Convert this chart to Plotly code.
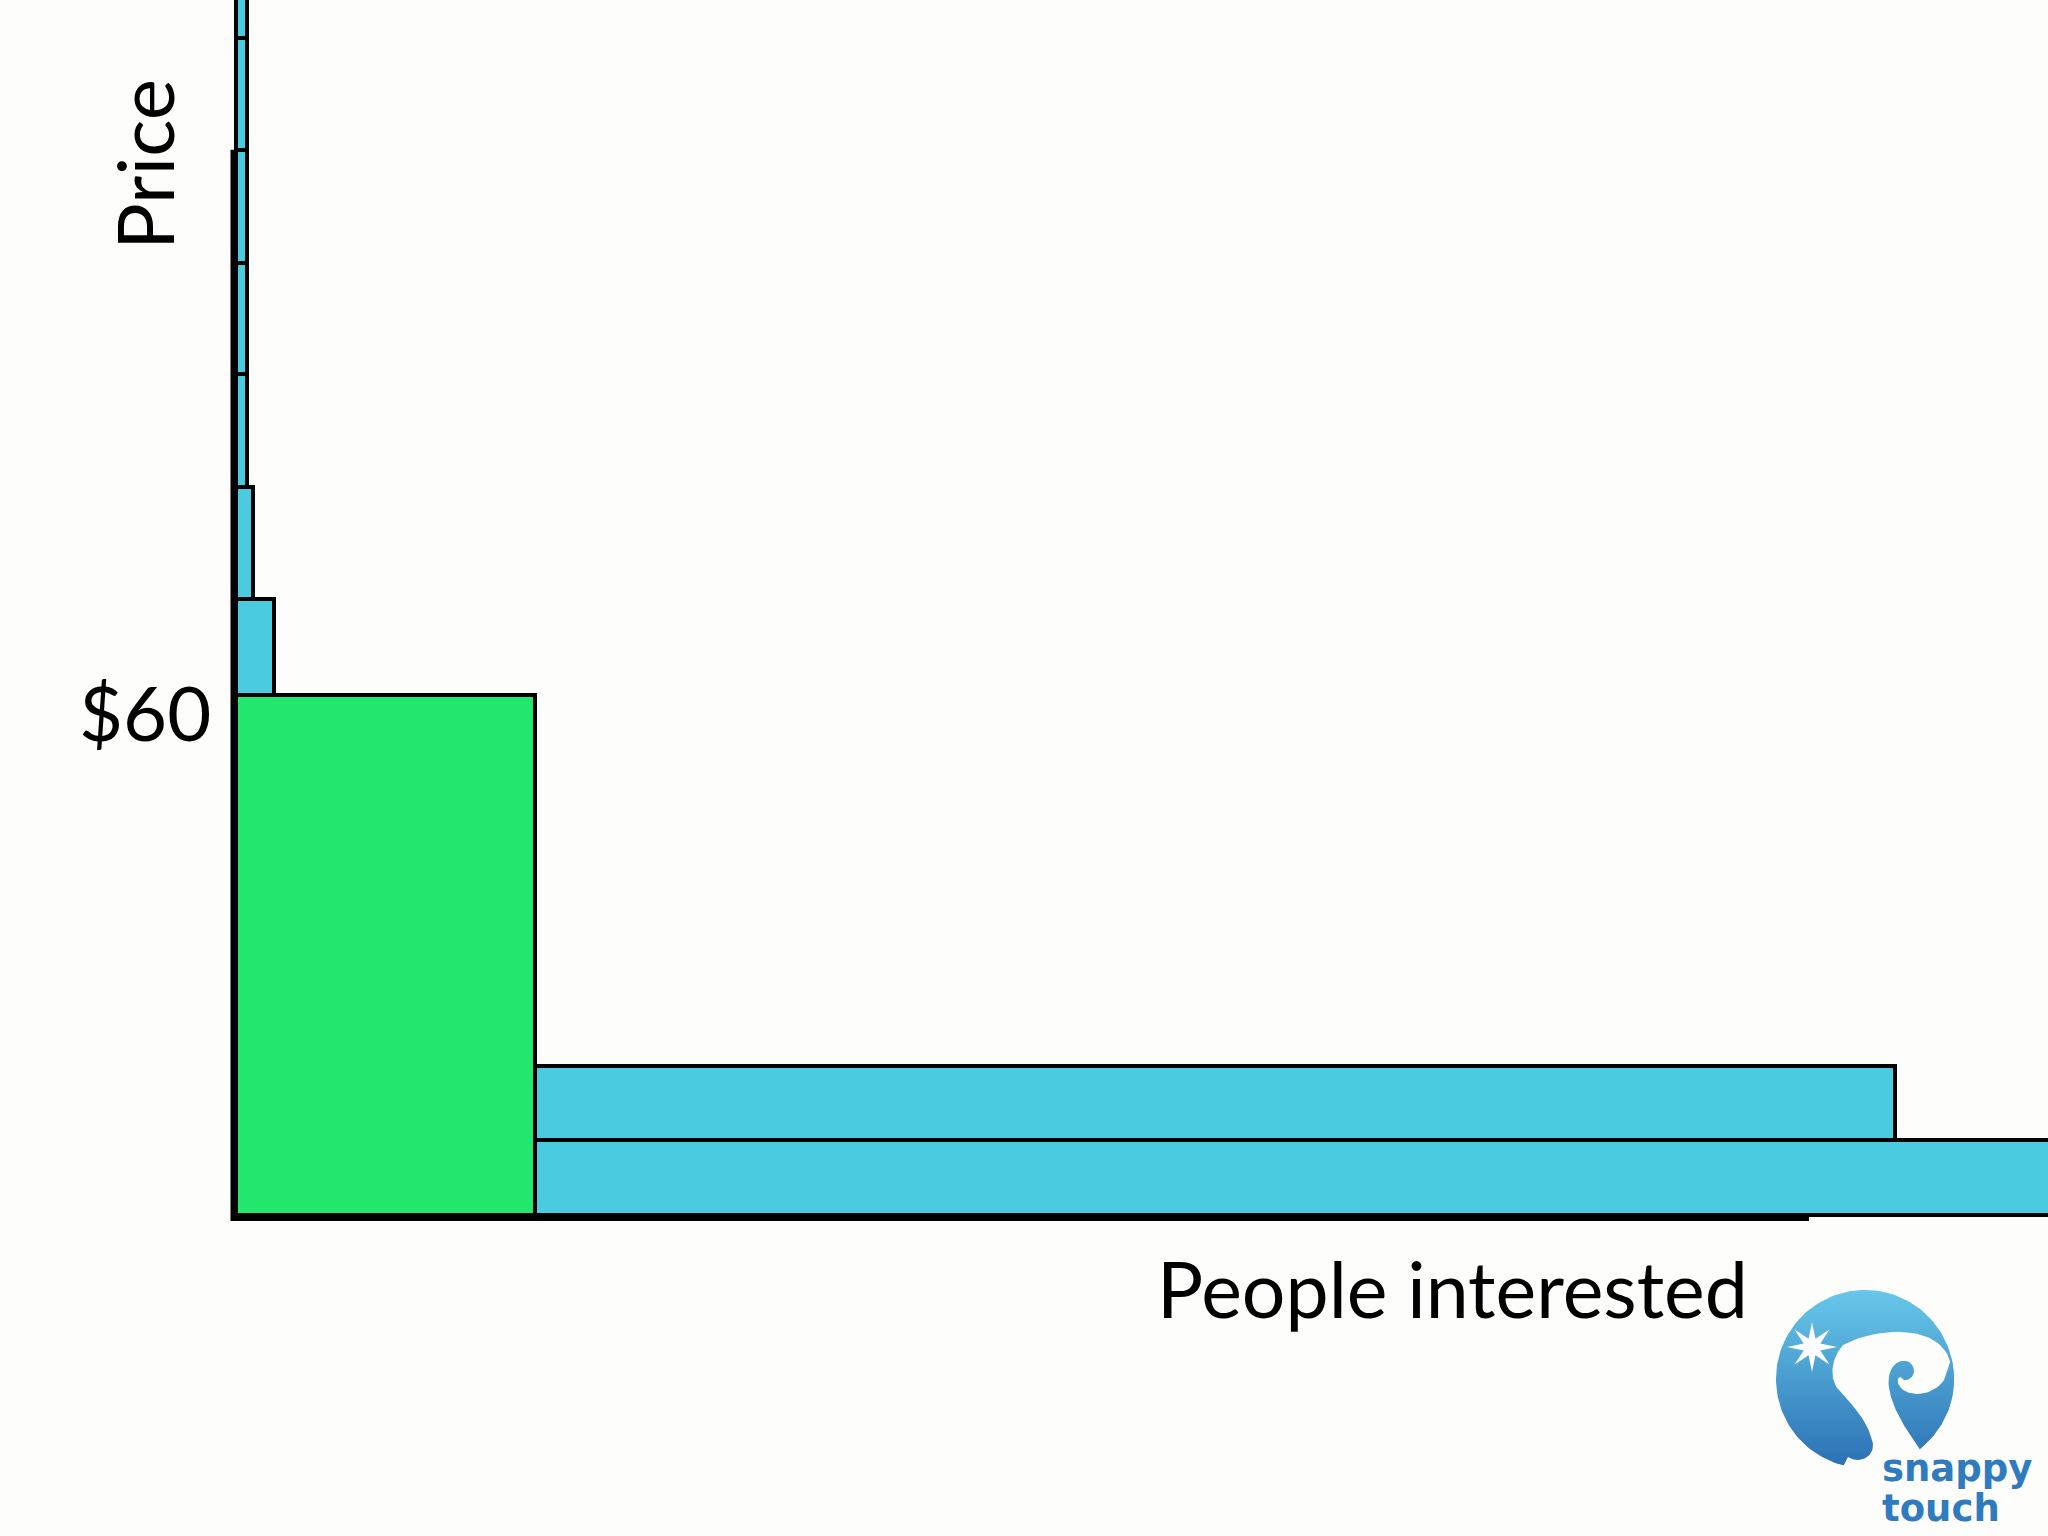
import numpy as np
import plotly.graph_objects as go

W, H = 2048, 1536

# ---------------- data ----------------
# demand tiers: price band (low, high) in $ and number of people interested
band_low = [0.0, 8.7, 60.0, 71.1, 84.0, 97.0, 109.8, 122.9, 135.8]
band_high = [8.7, 17.2, 71.1, 84.0, 97.0, 109.8, 122.9, 135.8, 148.7]
people = [20000, 16590, 380, 170, 112, 112, 112, 112, 112]

# revenue box at the chosen price
chosen_price = 60
chosen_people = 2990

x_title = "People interested"
y_title = "Price"
price_label = f"${chosen_price}"

axis_top_price = 122.9      # where the drawn price axis stops
axis_right_people = 15730   # where the drawn people axis stops

# ---------------- styling ----------------
BLUE = "#4ACBE0"
GREEN = "#23E66C"
BG = "#FDFEFC"
FONT = "Lato"

low = np.array(band_low)
high = np.array(band_high)
centers = (low + high) / 2
thick = high - low

fig = go.Figure()
fig.add_trace(go.Bar(
    orientation="h", y=centers, x=people, width=thick, base=0,
    marker=dict(color=BLUE, line=dict(color="black", width=4)),
    hoverinfo="skip", showlegend=False,
))
fig.add_trace(go.Bar(
    orientation="h", y=[chosen_price / 2], x=[chosen_people], width=[chosen_price], base=0,
    marker=dict(color=GREEN, line=dict(color="black", width=4)),
    hoverinfo="skip", showlegend=False,
))

# axis geometry (data units: 10 people per px, 8.667 px per $)
PX_PER_PERSON = 0.1
PX_PER_DOLLAR = 8.667
X0_PX, Y0_PX = 236, 1215
x_range = [-X0_PX / PX_PER_PERSON, (W - X0_PX) / PX_PER_PERSON]
y_range = [-(H - Y0_PX) / PX_PER_DOLLAR, Y0_PX / PX_PER_DOLLAR]

shapes = [
    dict(type="line", xref="x", yref="y", x0=0, x1=axis_right_people,
         y0=-0.35, y1=-0.35, line=dict(color="black", width=6), layer="above"),
    dict(type="line", xref="x", yref="y", x0=-25, x1=-25,
         y0=-0.7, y1=axis_top_price, line=dict(color="black", width=6), layer="above"),
]

# ---------------- logo (pixel overlay axes) ----------------
def bezier(p0, p1, p2, p3, n=24):
    t = np.linspace(0, 1, n)[:, None]
    p0, p1, p2, p3 = map(np.array, (p0, p1, p2, p3))
    return ((1 - t) ** 3) * p0 + 3 * ((1 - t) ** 2) * t * p1 + 3 * (1 - t) * t ** 2 * p2 + t ** 3 * p3

def build(start, segs):
    pts = [np.array([start])]
    cur = start
    for s in segs:
        if len(s) == 1:
            pts.append(np.array([s[0]]))
            cur = s[0]
        elif len(s) == 3:
            pts.append(bezier(cur, s[0], s[1], s[2])[1:])
            cur = s[2]
        else:
            pts.append(np.array(s))
            cur = tuple(s[-1])
    a = np.vstack(pts)
    return a[:, 0], a[:, 1]

cx, cy, r = 1865, 1379, 89
GRAD = dict(type="vertical", start=cy - r, stop=cy + r,
            colorscale=[[0, "#67C8EA"], [1, "#2B70B4"]])

def blue_piece(xs, ys):
    fig.add_trace(go.Scatter(
        x=xs, y=ys, xaxis="x2", yaxis="y2", mode="lines", line=dict(width=0),
        fill="toself", fillgradient=GRAD, hoverinfo="skip", showlegend=False))

def white_piece(xs, ys):
    fig.add_trace(go.Scatter(
        x=xs, y=ys, xaxis="x2", yaxis="y2", mode="lines", line=dict(width=0),
        fill="toself", fillcolor=BG, hoverinfo="skip", showlegend=False))

t = np.linspace(0, 2 * np.pi, 181)
blue_piece(cx + r * np.cos(t), cy + r * np.sin(t))

# white wave
wx, wy = build((1843, 1345), [
    ((1870, 1330), (1922, 1324), (1943, 1348)),
    ((1956, 1362), (1953, 1392), (1945, 1402)),
    ((1968, 1482),),
    ((1835, 1482),),
    ((1848, 1457),),
    ((1858, 1464), (1874, 1458), (1873, 1444)),
    ((1869, 1424), (1856, 1408), (1840, 1392)),
    ((1829, 1380), (1830, 1360), (1843, 1345)),
])
white_piece(wx, wy)

# right blue region with the hook
th = np.radians(np.linspace(-14, 52, 40))
arc = np.column_stack([cx + r * np.cos(th), cy + r * np.sin(th)])
hx, hy = build(tuple(arc[0]), [
    arc.tolist(),
    ((1906, 1430), (1892, 1408), (1889, 1388)),
    ((1886, 1368), (1898, 1357), (1909, 1362)),
    ((1918, 1368), (1914, 1381), (1904, 1380)),
    ((1900, 1375), (1897, 1377), (1898, 1383)),
    ((1903, 1398), (1932, 1398), (1944, 1380)),
    ((1948, 1370), (1950, 1362), tuple(arc[0])),
])
blue_piece(hx, hy)

# star
sx, sy = 1812, 1347
ang = np.linspace(0, 2 * np.pi, 17)[:-1] - np.pi / 2
rad = np.where(np.arange(16) % 2 == 0, 25, 9)
white_piece(np.append(sx + rad * np.cos(ang), sx + rad[0] * np.cos(ang[0])),
            np.append(sy + rad * np.sin(ang), sy + rad[0] * np.sin(ang[0])))

annotations = [
    dict(x=0, y=chosen_price, xref="x", yref="y", text=price_label, showarrow=False,
         xanchor="right", yanchor="middle", xshift=-23, yshift=-17,
         font=dict(family=FONT, size=76, color="black")),
    dict(x=144 / W, y=1 - 165 / H, xref="paper", yref="paper", text=y_title,
         showarrow=False, textangle=-90, xanchor="center", yanchor="middle",
         font=dict(family=FONT, size=78, color="black")),
    dict(x=1452 / W, y=1 - 1288 / H, xref="paper", yref="paper", text=x_title,
         showarrow=False, xanchor="center", yanchor="middle",
         font=dict(family=FONT, size=77, color="black")),
    dict(x=1880 / W, y=1 - 1468 / H, xref="paper", yref="paper", text="<b>snappy</b>",
         showarrow=False, xanchor="left", yanchor="middle",
         font=dict(family="DejaVu Sans", size=37, color="#2F7BBF")),
    dict(x=1880 / W, y=1 - 1508 / H, xref="paper", yref="paper", text="<b>touch</b>",
         showarrow=False, xanchor="left", yanchor="middle",
         font=dict(family="DejaVu Sans", size=37, color="#2F7BBF")),
]

fig.update_layout(
    width=W, height=H,
    margin=dict(l=0, r=0, t=0, b=0, pad=0),
    paper_bgcolor=BG, plot_bgcolor=BG,
    barmode="overlay", bargap=0,
    xaxis=dict(range=x_range, visible=False, fixedrange=True),
    yaxis=dict(range=y_range, visible=False, fixedrange=True),
    xaxis2=dict(range=[0, W], overlaying="x", anchor="y2", visible=False, fixedrange=True),
    yaxis2=dict(range=[H, 0], overlaying="y", anchor="x2", visible=False, fixedrange=True),
    shapes=shapes,
    annotations=annotations,
    showlegend=False,
)

fig.write_html("out.html", config={"displayModeBar": False},
               post_script="document.body.style.margin='0';")
